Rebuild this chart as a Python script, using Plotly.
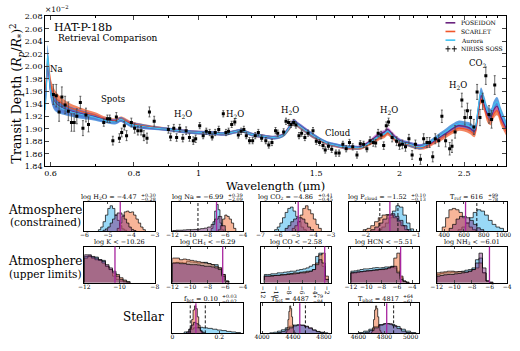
import math
import plotly.graph_objects as go

# ---------------- data: transmission spectrum ----------------
WL = [0.606, 0.612, 0.618, 0.624, 0.631, 0.638, 0.645, 0.651, 0.657, 0.665, 0.671, 0.678, 0.684,
      0.721, 0.730, 0.736, 0.744, 0.753, 0.761, 0.767, 0.774, 0.780, 0.793, 0.802, 0.811, 0.820,
      0.828, 0.837, 0.844, 0.858,
      0.901, 0.908, 0.918, 0.927, 0.937, 0.947, 0.958, 0.969, 0.982, 0.990,
      1.004, 1.016, 1.027, 1.039, 1.048, 1.059, 1.072, 1.089, 1.099, 1.109, 1.121, 1.133, 1.147,
      1.158, 1.169, 1.179, 1.192, 1.205, 1.216, 1.229, 1.243, 1.261, 1.274, 1.288, 1.304, 1.314,
      1.341, 1.352, 1.364, 1.375, 1.388, 1.399, 1.414, 1.427, 1.443, 1.459, 1.484, 1.501, 1.518,
      1.536, 1.548, 1.565, 1.583, 1.606, 1.624, 1.645, 1.664, 1.683, 1.702, 1.727, 1.747, 1.767,
      1.787, 1.807, 1.827, 1.842, 1.858, 1.877, 1.894, 1.911, 1.926, 1.950, 1.980, 2.000, 2.020,
      2.042, 2.066, 2.089, 2.113, 2.150, 2.174, 2.199, 2.219, 2.243, 2.263, 2.290, 2.315, 2.345,
      2.378, 2.397, 2.423, 2.480, 2.506, 2.528, 2.556, 2.585, 2.614, 2.640, 2.664, 2.694, 2.724,
      2.748, 2.778]
DEPTH = [1.955, 1.953, 1.927, 1.951, 1.938, 1.928, 1.910, 1.910, 1.920, 1.942, 1.901, 1.922, 1.907,
         1.910, 1.916, 1.916, 1.881, 1.919, 1.885, 1.894, 1.905, 1.889, 1.910, 1.901, 1.897, 1.897,
         1.889, 1.885, 1.927, 1.912,
         1.899, 1.887, 1.901, 1.886, 1.901, 1.885, 1.897, 1.886, 1.881, 1.884,
         1.905, 1.889, 1.896, 1.894, 1.887, 1.894, 1.899, 1.924, 1.894, 1.896, 1.907, 1.911, 1.890,
         1.896, 1.899, 1.889, 1.881, 1.881, 1.889, 1.894, 1.885, 1.881, 1.874, 1.878, 1.897, 1.893,
         1.895, 1.912, 1.910, 1.907, 1.910, 1.906, 1.889, 1.893, 1.886, 1.893, 1.897, 1.880, 1.878,
         1.873, 1.866, 1.872, 1.867, 1.861, 1.861, 1.875, 1.868, 1.878, 1.871, 1.858, 1.876, 1.875,
         1.868, 1.881, 1.878, 1.877, 1.893, 1.890, 1.873, 1.905, 1.911, 1.886, 1.880, 1.874, 1.875,
         1.871, 1.884, 1.858, 1.875, 1.851, 1.884, 1.878, 1.878, 1.855, 1.884, 1.881, 1.920, 1.881,
         1.868, 1.872, 1.895, 1.946, 1.918, 1.929, 1.918, 1.903, 1.959, 1.918, 1.944, 1.985, 1.923,
         1.915, 1.970]
ERR = [0.016, 0.018, 0.015, 0.016, 0.014, 0.015, 0.014, 0.014, 0.012, 0.010, 0.012, 0.011, 0.012,
       0.006, 0.006, 0.006, 0.007, 0.007, 0.007, 0.007, 0.007, 0.008, 0.007, 0.008, 0.007, 0.007,
       0.008, 0.008, 0.008, 0.008,
       0.006, 0.006, 0.006, 0.006, 0.006, 0.006, 0.006, 0.006, 0.006, 0.006,
       0.005, 0.005, 0.005, 0.005, 0.005, 0.005, 0.005, 0.005, 0.005, 0.005, 0.005, 0.005, 0.005,
       0.005, 0.005, 0.005, 0.005, 0.005, 0.005, 0.005, 0.005, 0.005, 0.005, 0.005, 0.005, 0.005,
       0.005, 0.005, 0.005, 0.005, 0.005, 0.005, 0.005, 0.005, 0.005, 0.005, 0.005, 0.005, 0.005,
       0.005, 0.005, 0.005, 0.005, 0.005, 0.005, 0.005, 0.005, 0.005, 0.005, 0.005, 0.005, 0.005,
       0.005, 0.006, 0.006, 0.006, 0.006, 0.006, 0.006, 0.006, 0.006, 0.007, 0.007, 0.007, 0.007,
       0.007, 0.007, 0.007, 0.007, 0.008, 0.008, 0.008, 0.008, 0.008, 0.008, 0.009, 0.010, 0.010,
       0.010, 0.010, 0.010, 0.011, 0.012, 0.012, 0.012, 0.012, 0.012, 0.013, 0.013, 0.014, 0.014,
       0.014, 0.015]

MODEL_WL = [0.589, 0.592, 0.594, 0.597, 0.600, 0.605, 0.610, 0.620, 0.640, 0.660, 0.680, 0.700,
            0.720, 0.750, 0.765, 0.775, 0.790, 0.820, 0.860, 0.900, 0.950, 1.000, 1.050, 1.100,
            1.130, 1.160, 1.200, 1.250, 1.300, 1.340, 1.370, 1.390, 1.410, 1.440, 1.480, 1.520,
            1.560, 1.600, 1.650, 1.700, 1.750, 1.800, 1.840, 1.870, 1.900, 1.920, 1.950, 1.980,
            2.020, 2.060, 2.100, 2.150, 2.200, 2.250, 2.300, 2.350, 2.400, 2.450, 2.500, 2.550,
            2.590, 2.620, 2.650, 2.680, 2.710, 2.740, 2.770, 2.800, 2.840, 2.890]
AURORA_MODEL = [1.930, 1.975, 2.018, 1.990, 1.962, 1.946, 1.940, 1.934, 1.928, 1.924, 1.921, 1.918,
                1.914, 1.911, 1.915, 1.912, 1.907, 1.904, 1.901, 1.899, 1.896, 1.894, 1.893, 1.892,
                1.895, 1.897, 1.891, 1.888, 1.886, 1.890, 1.903, 1.911, 1.906, 1.899, 1.890, 1.883,
                1.877, 1.874, 1.871, 1.870, 1.870, 1.877, 1.884, 1.889, 1.892, 1.896, 1.889, 1.883,
                1.878, 1.876, 1.873, 1.871, 1.875, 1.882, 1.889, 1.896, 1.903, 1.908, 1.907, 1.904,
                1.899, 1.928, 1.958, 1.944, 1.928, 1.924, 1.937, 1.943, 1.925, 1.905]
SCARLET_MODEL = [1.962, 1.985, 2.005, 1.995, 1.972, 1.958, 1.950, 1.943, 1.934, 1.929, 1.925, 1.922,
                 1.917, 1.913, 1.916, 1.914, 1.909, 1.905, 1.902, 1.899, 1.896, 1.894, 1.893, 1.892,
                 1.895, 1.897, 1.891, 1.888, 1.886, 1.890, 1.902, 1.910, 1.905, 1.898, 1.889, 1.882,
                 1.876, 1.873, 1.870, 1.869, 1.869, 1.875, 1.881, 1.886, 1.889, 1.893, 1.887, 1.881,
                 1.877, 1.875, 1.872, 1.870, 1.872, 1.878, 1.884, 1.890, 1.896, 1.901, 1.900, 1.897,
                 1.892, 1.918, 1.948, 1.934, 1.917, 1.913, 1.924, 1.929, 1.912, 1.896]
POSEIDON_MODEL = [1.940, 1.978, 1.998, 1.985, 1.962, 1.948, 1.941, 1.935, 1.929, 1.925, 1.922, 1.919,
                  1.915, 1.912, 1.915, 1.912, 1.908, 1.904, 1.901, 1.899, 1.896, 1.894, 1.893, 1.892,
                  1.895, 1.897, 1.891, 1.888, 1.886, 1.891, 1.904, 1.912, 1.907, 1.900, 1.890, 1.883,
                  1.877, 1.874, 1.871, 1.870, 1.871, 1.879, 1.887, 1.892, 1.895, 1.899, 1.892, 1.885,
                  1.879, 1.877, 1.874, 1.872, 1.874, 1.880, 1.887, 1.893, 1.900, 1.905, 1.904, 1.901,
                  1.896, 1.924, 1.953, 1.939, 1.923, 1.919, 1.931, 1.936, 1.918, 1.901]
BAND_HALF = [0.010, 0.014, 0.016, 0.014, 0.012, 0.012, 0.012, 0.010, 0.008, 0.007, 0.006, 0.005,
             0.004, 0.004, 0.004, 0.004, 0.004, 0.004, 0.003, 0.003, 0.003, 0.003, 0.003, 0.003,
             0.003, 0.003, 0.003, 0.003, 0.003, 0.003, 0.004, 0.004, 0.004, 0.004, 0.004, 0.003,
             0.003, 0.003, 0.003, 0.003, 0.003, 0.003, 0.004, 0.004, 0.004, 0.004, 0.004, 0.004,
             0.004, 0.004, 0.004, 0.004, 0.004, 0.004, 0.005, 0.005, 0.005, 0.005, 0.005, 0.006,
             0.006, 0.007, 0.008, 0.008, 0.008, 0.008, 0.008, 0.008, 0.008, 0.008]

FEATURES = ["Na", "Spots", "H<sub>2</sub>O", "H<sub>2</sub>O", "H<sub>2</sub>O", "Cloud",
            "H<sub>2</sub>O", "H<sub>2</sub>O", "CO<sub>2</sub>"]
FEATURE_WL = [0.612, 0.745, 0.947, 1.135, 1.37, 1.62, 1.93, 2.45, 2.62]
FEATURE_Y = [1.995, 1.948, 1.923, 1.923, 1.930, 1.893, 1.930, 1.970, 2.005]

X_TICKS = [0.6, 0.8, 1, 1.5, 2, 2.5]
X_MINOR = [0.7, 0.9, 1.1, 1.2, 1.3, 1.4, 1.6, 1.7, 1.8, 1.9, 2.1, 2.2, 2.3, 2.4, 2.6, 2.7, 2.8]
Y_TICKS = [1.84, 1.86, 1.88, 1.90, 1.92, 1.94, 1.96, 1.98, 2.00, 2.02, 2.04, 2.06, 2.08]

# ---------------- data: posterior histograms (lo, hi, normalised counts) ----------------
h2o = dict(title="log H<sub>2</sub>O = −4.47", up="+0.30", dn="−0.28", rng=[-6, -3], ticks=[-6, -5, -4, -3],
           median=-4.47, dashed=[],
           aurora=(-5.4, -4.2, [0.05, 0.15, 0.35, 0.6, 0.85, 0.95, 0.85, 0.6, 0.4, 0.2, 0.08, 0.03]),
           scarlet=(-4.6, -3.4, [0.1, 0.3, 0.55, 0.72, 0.75, 0.7, 0.72, 0.6, 0.45, 0.3, 0.15, 0.05]),
           poseidon=(-5.2, -3.8, [0.03, 0.08, 0.15, 0.3, 0.45, 0.6, 0.68, 0.68, 0.6, 0.45, 0.3, 0.15, 0.06, 0.02]))
na = dict(title="log Na = −6.99", up="+0.39", dn="−2.09", rng=[-12, -4], ticks=[-12, -10, -8, -6, -4],
          median=-6.99, dashed=[-9.1],
          aurora=(-7.6, -6.2, [0.1, 0.35, 0.75, 1.0, 0.8, 0.3, 0.05]),
          scarlet=(-6.8, -4.8, [0.05, 0.2, 0.45, 0.6, 0.55, 0.45, 0.3, 0.1]),
          poseidon=(-12, -6.0, [0.02, 0.03, 0.03, 0.04, 0.05, 0.05, 0.06, 0.07, 0.09, 0.11, 0.15, 0.25, 0.45, 0.55, 0.2]))
co2 = dict(title="log CO<sub>2</sub> = −4.86", up="+0.41", dn="−0.45", rng=[-7, -3], ticks=[-7, -6, -5, -4, -3],
           median=-4.86, dashed=[],
           aurora=(-6.2, -4.4, [0.05, 0.15, 0.3, 0.5, 0.7, 0.85, 0.9, 0.75, 0.55, 0.35, 0.15, 0.05]),
           scarlet=(-5.2, -3.55, [0.1, 0.2, 0.35, 0.6, 0.85, 0.95, 0.8, 0.65, 0.45, 0.25, 0.1]),
           poseidon=(-5.6, -4.0, [0.1, 0.2, 0.35, 0.45, 0.5, 0.5, 0.45, 0.3, 0.15, 0.05]))
pcloud = dict(title="log P<sub>cloud</sub> = −1.52", up="+0.10", dn="−0.13", rng=[-2.34, -0.94], ticks=[-2, -1],
              median=-1.52, dashed=[-1.72, -1.36],
              aurora=(-1.75, -1.05, [0.05, 0.15, 0.3, 0.5, 0.75, 0.95, 0.9, 0.6, 0.3, 0.08]),
              scarlet=(-2.05, -1.15, [0.05, 0.1, 0.2, 0.35, 0.5, 0.6, 0.62, 0.6, 0.5, 0.35, 0.2, 0.05]),
              poseidon=(-1.9, -1.1, [0.05, 0.15, 0.3, 0.45, 0.6, 0.65, 0.55, 0.4, 0.2, 0.05]))
tref = dict(title="T<sub>ref</sub> = 616", up="+99", dn="−78", rng=[324, 1037], ticks=[400, 600, 800, 1000],
            median=616, dashed=[730],
            aurora=(540, 1000, [0.05, 0.15, 0.3, 0.5, 0.7, 0.8, 0.75, 0.6, 0.4, 0.25, 0.15, 0.1]),
            scarlet=(380, 720, [0.15, 0.5, 0.8, 0.85, 0.8, 0.7, 0.5, 0.3, 0.15, 0.05]),
            poseidon=(450, 800, [0.1, 0.25, 0.45, 0.55, 0.55, 0.5, 0.4, 0.25, 0.12, 0.05]))
k_ = dict(title="log K &lt; −10.26", up="", dn="", rng=[-12, -8], ticks=[-12, -10, -8],
          median=-10.26, dashed=[],
          aurora=(-12, -9.4, [0.8, 0.82, 0.78, 0.78, 0.7, 0.68, 0.5, 0.4, 0.2, 0.1, 0.05, 0.02, 0.01]),
          scarlet=(-12, -9.4, [0.75, 0.8, 0.75, 0.7, 0.68, 0.6, 0.5, 0.4, 0.3, 0.25, 0.15, 0.08, 0.03]),
          poseidon=(-12, -9.4, [0.85, 0.85, 0.8, 0.75, 0.7, 0.65, 0.55, 0.45, 0.35, 0.2, 0.1, 0.05, 0.02]))
ch4 = dict(title="log CH<sub>4</sub> &lt; −6.29", up="", dn="", rng=[-12, -4], ticks=[-12, -10, -8, -6, -4],
           median=-6.29, dashed=[],
           aurora=(-12, -5.6, [0.6, 0.62, 0.62, 0.6, 0.65, 0.63, 0.62, 0.6, 0.6, 0.62, 0.58, 0.55, 0.55, 0.45, 0.25, 0.05]),
           scarlet=(-12, -5.6, [0.75, 0.75, 0.7, 0.72, 0.7, 0.68, 0.66, 0.64, 0.62, 0.6, 0.58, 0.55, 0.5, 0.45, 0.25, 0.05]),
           poseidon=(-12, -5.6, [0.6, 0.6, 0.58, 0.58, 0.56, 0.55, 0.55, 0.54, 0.52, 0.5, 0.5, 0.48, 0.45, 0.4, 0.2, 0.03]))
co = dict(title="log CO &lt; −2.58", up="", dn="", rng=[-12.6, -1.6], ticks=[-12, -10, -8, -6, -4, -2],
          median=-2.58, dashed=[],
          aurora=(-12, -2, [0.25, 0.25, 0.27, 0.27, 0.3, 0.3, 0.32, 0.33, 0.35, 0.35, 0.38, 0.4, 0.42, 0.45, 0.5, 0.55, 0.8, 0.9, 0.5, 0.1]),
          scarlet=(-12, -2, [0.2, 0.2, 0.22, 0.22, 0.23, 0.25, 0.25, 0.27, 0.28, 0.3, 0.3, 0.32, 0.33, 0.35, 0.35, 0.4, 0.6, 0.85, 0.9, 0.2]),
          poseidon=(-12, -2, [0.2, 0.2, 0.2, 0.22, 0.22, 0.23, 0.24, 0.25, 0.26, 0.27, 0.28, 0.3, 0.3, 0.32, 0.35, 0.4, 0.55, 0.7, 0.6, 0.1]))
hcn = dict(title="log HCN &lt; −5.51", up="", dn="", rng=[-12.3, -3.1], ticks=[-12, -10, -8, -6, -4],
           median=-5.51, dashed=[],
           aurora=(-12, -4.4, [0.35, 0.36, 0.38, 0.4, 0.42, 0.42, 0.43, 0.45, 0.46, 0.45, 0.46, 0.48, 0.48, 0.5, 0.45, 0.35, 0.15, 0.05, 0.01]),
           scarlet=(-12, -4.4, [0.3, 0.3, 0.32, 0.33, 0.35, 0.36, 0.36, 0.38, 0.4, 0.4, 0.42, 0.42, 0.45, 0.48, 0.75, 0.9, 0.2, 0.05, 0.01]),
           poseidon=(-12, -4.4, [0.3, 0.32, 0.33, 0.34, 0.35, 0.36, 0.37, 0.38, 0.38, 0.4, 0.4, 0.42, 0.45, 0.48, 0.5, 0.3, 0.1, 0.03, 0.01]))
nh3 = dict(title="log NH<sub>3</sub> &lt; −6.01", up="", dn="", rng=[-12, -4], ticks=[-12, -10, -8, -6, -4],
           median=-6.01, dashed=[],
           aurora=(-12, -5.6, [0.25, 0.28, 0.3, 0.3, 0.32, 0.32, 0.33, 0.35, 0.38, 0.4, 0.45, 0.7, 0.75, 0.3, 0.05, 0.01]),
           scarlet=(-12, -5.6, [0.3, 0.32, 0.33, 0.35, 0.35, 0.33, 0.34, 0.33, 0.32, 0.35, 0.4, 0.45, 0.6, 0.3, 0.05, 0.01]),
           poseidon=(-12, -5.6, [0.2, 0.22, 0.24, 0.25, 0.25, 0.27, 0.28, 0.3, 0.32, 0.35, 0.4, 0.6, 0.9, 0.45, 0.05, 0.01]))
fhet = dict(title="f<sub>het</sub> = 0.10", up="+0.03", dn="−0.02", rng=[0, 0.3], ticks=[0.0, 0.2],
            median=0.10, dashed=[0.076, 0.14],
            aurora=(0.05, 0.29, [0.05, 0.15, 0.2, 0.22, 0.2, 0.18, 0.15, 0.12, 0.1, 0.07, 0.05, 0.03]),
            scarlet=(0.07, 0.13, [0.05, 0.2, 0.5, 0.85, 1.0, 0.9, 0.6, 0.3, 0.1, 0.03]),
            poseidon=(0.06, 0.14, [0.05, 0.15, 0.3, 0.4, 0.35, 0.2, 0.08, 0.02]))
thet = dict(title="T<sub>het</sub> = 4487", up="+79", dn="−84", rng=[3980, 4890], ticks=[4000, 4400, 4800],
            median=4487, dashed=[4560],
            aurora=(4100, 4850, [0.02, 0.04, 0.08, 0.13, 0.2, 0.26, 0.3, 0.31, 0.29, 0.24, 0.18, 0.12, 0.07, 0.04, 0.02]),
            scarlet=(4310, 4430, [0.05, 0.2, 0.5, 0.8, 1.0, 0.9, 0.6, 0.3, 0.1, 0.03]),
            poseidon=(4200, 4800, [0.03, 0.07, 0.13, 0.2, 0.27, 0.3, 0.3, 0.26, 0.2, 0.12, 0.06, 0.02]))
tphot = dict(title="T<sub>phot</sub> = 4817", up="+64", dn="−61", rng=[4525, 5065], ticks=[4600, 4800, 5000],
             median=4817, dashed=[4870],
             aurora=(4600, 5040, [0.03, 0.08, 0.15, 0.25, 0.32, 0.35, 0.32, 0.25, 0.15, 0.08, 0.03]),
             scarlet=(4700, 4780, [0.05, 0.2, 0.5, 0.85, 1.0, 0.9, 0.6, 0.3, 0.1, 0.03]),
             poseidon=(4650, 5000, [0.04, 0.1, 0.2, 0.3, 0.35, 0.35, 0.28, 0.18, 0.08, 0.03]))

PANELS = [h2o, na, co2, pcloud, tref, k_, ch4, co, hcn, nh3, fhet, thet, tphot]

# ---------------- layout geometry (pixels) ----------------
W, H = 520, 351
FONT = "DejaVu Serif"
SLOTS = [(0, 0), (0, 1), (0, 2), (0, 3), (0, 4),
         (1, 0), (1, 1), (1, 2), (1, 3), (1, 4),
         (2, 1), (2, 2), (2, 3)]
COL_LEFT = [80, 170, 260, 350, 440]
COL_W = 72
ROW_TB = [(203, 233), (249, 286), (307, 338)]

def fx(p):
    return p / W

def fy(p):
    return 1 - p / H

COL_AUR_FILL = "rgba(70,185,240,0.55)"
COL_SCA_FILL = "rgba(242,120,70,0.55)"
COL_POS_FILL = "rgba(120,35,120,0.45)"
MAGENTA = "#a8259f"

fig = go.Figure()

# ---- main panel bands and lines ----
def band(model, scale, fillcol):
    up = [m + scale * b for m, b in zip(model, BAND_HALF)]
    lo = [m - scale * b for m, b in zip(model, BAND_HALF)]
    fig.add_trace(go.Scatter(x=MODEL_WL, y=up, mode="lines", line=dict(width=0, shape="spline"),
                             showlegend=False, hoverinfo="skip"))
    fig.add_trace(go.Scatter(x=MODEL_WL, y=lo, mode="lines", line=dict(width=0, shape="spline"),
                             fill="tonexty", fillcolor=fillcol, showlegend=False, hoverinfo="skip"))

band(SCARLET_MODEL, 0.9, "rgba(238,95,45,0.75)")
band(POSEIDON_MODEL, 0.9, "rgba(190,70,190,0.6)")
band(AURORA_MODEL, 1.0, "rgba(40,125,215,0.75)")

fig.add_trace(go.Scatter(x=MODEL_WL, y=SCARLET_MODEL, mode="lines",
                         line=dict(color="#f0562a", width=1.2, shape="spline"), showlegend=False))
fig.add_trace(go.Scatter(x=MODEL_WL, y=POSEIDON_MODEL, mode="lines",
                         line=dict(color="#6a237f", width=1.2, shape="spline"), showlegend=False))
fig.add_trace(go.Scatter(x=MODEL_WL, y=AURORA_MODEL, mode="lines",
                         line=dict(color="#3fc3f2", width=1.2, shape="spline"), showlegend=False))

fig.add_trace(go.Scatter(x=WL, y=DEPTH, mode="markers",
                         marker=dict(symbol="square", size=3, color="black"),
                         error_y=dict(type="data", array=ERR, color="#444", thickness=0.8, width=1),
                         error_x=dict(type="percent", value=0.3, color="black", thickness=1, width=0),
                         showlegend=False))

# ---- histograms ----
def step_xy(lo, hi, counts):
    n = len(counts)
    w = (hi - lo) / n
    edges = [lo + i * w for i in range(n + 1)]
    xs = [edges[0]] + edges[:-1] + [edges[-1]]
    ys = [0] + list(counts) + [0]
    return xs, ys

layout_axes = {}
shapes = []
annotations = []

for i, (p, (r, c)) in enumerate(zip(PANELS, SLOTS)):
    n = i + 2
    xa, ya = f"x{n}", f"y{n}"
    for key, fill in (("aurora", COL_AUR_FILL), ("scarlet", COL_SCA_FILL), ("poseidon", COL_POS_FILL)):
        lo, hi, cnt = p[key]
        xs, ys = step_xy(lo, hi, cnt)
        fig.add_trace(go.Scatter(x=xs, y=ys, mode="lines", line=dict(shape="hv", color="black", width=0.7),
                                 fill="tozeroy", fillcolor=fill, xaxis=xa, yaxis=ya,
                                 showlegend=False, hoverinfo="skip"))
    left = COL_LEFT[c]
    top, bot = ROW_TB[r]
    layout_axes[f"xaxis{n}"] = dict(domain=[fx(left), fx(left + COL_W)], anchor=ya, range=p["rng"],
                                    tickvals=p["ticks"], ticktext=[("%g" % t).replace("-", "−") for t in p["ticks"]],
                                    ticks="inside", ticklen=2.5, tickwidth=0.7, showline=True, mirror="ticks",
                                    linecolor="black", linewidth=0.8, showgrid=False, zeroline=False,
                                    ticklabelstandoff=-2,
                                    tickfont=dict(size=6, family=FONT, color="black"))
    layout_axes[f"yaxis{n}"] = dict(domain=[fy(bot), fy(top)], anchor=xa, range=[0, 1.1],
                                    showticklabels=False, ticks="", showline=True, mirror=True,
                                    linecolor="black", linewidth=0.8, showgrid=False, zeroline=False)
    shapes.append(dict(type="line", xref=xa, yref=f"{ya} domain", x0=p["median"], x1=p["median"],
                       y0=0, y1=1, line=dict(color=MAGENTA, width=1.3)))
    for d in p["dashed"]:
        shapes.append(dict(type="line", xref=xa, yref=f"{ya} domain", x0=d, x1=d, y0=0, y1=1,
                           line=dict(color="black", width=0.9, dash="3px,2px")))
    # title (with stacked super/subscripts)
    cx = left + COL_W / 2
    ty = top - 4.5
    fs = 6.5
    plain = p["title"].replace("<sub>", "").replace("</sub>", "").replace("&lt;", "<")
    wmain = len(plain) * 0.56 * fs
    if p["up"]:
        wscr = len(p["up"]) * 0.6 * 5
        xa_ = cx - (wmain + wscr) / 2 + wmain
        annotations.append(dict(x=fx(xa_), y=fy(ty), xref="paper", yref="paper", text=p["title"],
                                showarrow=False, xanchor="right", yanchor="middle",
                                font=dict(size=fs, family=FONT, color="black")))
        annotations.append(dict(x=fx(xa_ + 0.5), y=fy(ty - 2.3), xref="paper", yref="paper", text=p["up"],
                                showarrow=False, xanchor="left", yanchor="middle",
                                font=dict(size=4.8, family=FONT, color="black")))
        annotations.append(dict(x=fx(xa_ + 0.5), y=fy(ty + 2.4), xref="paper", yref="paper", text=p["dn"],
                                showarrow=False, xanchor="left", yanchor="middle",
                                font=dict(size=4.8, family=FONT, color="black")))
    else:
        annotations.append(dict(x=fx(cx), y=fy(ty), xref="paper", yref="paper", text=p["title"],
                                showarrow=False, xanchor="center", yanchor="middle",
                                font=dict(size=fs, family=FONT, color="black")))

# ---- row labels ----
for txt, x, y, s, anc in [("Atmosphere", 40, 211, 12, "center"), ("(constrained)", 40, 224, 10.5, "center"),
                          ("Atmosphere", 40, 264, 12, "center"), ("(upper limits)", 40, 277, 10.5, "center"),
                          ("Stellar", 163, 321, 12, "right")]:
    annotations.append(dict(x=fx(x), y=fy(y), xref="paper", yref="paper", text=txt, showarrow=False,
                            xanchor=anc, yanchor="middle", font=dict(size=s, family=FONT, color="black")))

# ---- main panel text ----
annotations.append(dict(x=fx(47), y=fy(24), xref="paper", yref="paper", text="HAT-P-18b", showarrow=False,
                        xanchor="left", yanchor="middle", font=dict(size=11, family=FONT, color="black")))
annotations.append(dict(x=fx(51), y=fy(34.5), xref="paper", yref="paper", text="Retrieval Comparison",
                        showarrow=False, xanchor="left", yanchor="middle",
                        font=dict(size=9, family=FONT, color="black")))
annotations.append(dict(x=fx(38), y=fy(5), xref="paper", yref="paper", text="×10<sup>−2</sup>",
                        showarrow=False, xanchor="left", yanchor="middle",
                        font=dict(size=7.5, family=FONT, color="black")))
annotations.append(dict(x=fx(11), y=fy(92), xref="paper", yref="paper",
                        text="Transit Depth (<i>R</i><sub><i>p</i></sub>/<i>R</i><sub>*</sub>)<sup>2</sup>",
                        showarrow=False, textangle=-90, xanchor="center", yanchor="middle",
                        font=dict(size=12.5, family=FONT, color="black")))
annotations.append(dict(x=fx(275), y=fy(186.5), xref="paper", yref="paper", text="Wavelength (μm)",
                        showarrow=False, xanchor="center", yanchor="middle",
                        font=dict(size=11.5, family=FONT, color="black")))
for t, wl, yv in zip(FEATURES, FEATURE_WL, FEATURE_Y):
    annotations.append(dict(x=math.log10(wl), y=yv, xref="x", yref="y", text=t, showarrow=False,
                            xanchor="center", yanchor="middle", font=dict(size=8.5, family=FONT, color="black")))

# ---- legend (manual) ----
LEG = [("POSEIDON", "#6a237f"), ("SCARLET", "#f0562a"), ("Aurora", "#3fc3f2"), ("NIRISS SOSS", None)]
for j, (name, col) in enumerate(LEG):
    yy = 19.3 + j * 8.9
    if col:
        shapes.append(dict(type="line", xref="paper", yref="paper", x0=fx(449), x1=fx(459), y0=fy(yy), y1=fy(yy),
                           line=dict(color=col, width=1.6)))
    else:
        for cxp in (451.5, 458):
            shapes.append(dict(type="line", xref="paper", yref="paper", x0=fx(cxp - 2.5), x1=fx(cxp + 2.5),
                               y0=fy(yy), y1=fy(yy), line=dict(color="black", width=1)))
            shapes.append(dict(type="line", xref="paper", yref="paper", x0=fx(cxp), x1=fx(cxp),
                               y0=fy(yy - 3), y1=fy(yy + 3), line=dict(color="black", width=0.8)))
    annotations.append(dict(x=fx(463), y=fy(yy), xref="paper", yref="paper", text=name, showarrow=False,
                            xanchor="left", yanchor="middle", font=dict(size=6, family=FONT, color="black")))

fig.update_layout(
    width=W, height=H, margin=dict(l=0, r=0, t=0, b=0),
    paper_bgcolor="white", plot_bgcolor="white", showlegend=False,
    font=dict(family=FONT, color="black"),
    xaxis=dict(domain=[fx(40), fx(511)], anchor="y", type="log",
               range=[math.log10(0.589), math.log10(2.89)],
               tickvals=X_TICKS, ticktext=[str(t) for t in X_TICKS],
               ticks="inside", ticklen=4, tickwidth=0.8, showline=True, mirror="ticks",
               linecolor="black", linewidth=1, showgrid=False, zeroline=False,
               ticklabelstandoff=-1,
               minor=dict(tickvals=X_MINOR, ticks="inside", ticklen=2, tickwidth=0.6, tickcolor="black"),
               tickfont=dict(size=8, family=FONT, color="black")),
    yaxis=dict(domain=[fy(166.5), fy(12.7)], anchor="x", range=[1.84, 2.08],
               tickvals=Y_TICKS, ticktext=["%.2f" % v for v in Y_TICKS],
               ticks="inside", ticklen=4, tickwidth=0.8, showline=True, mirror="ticks",
               linecolor="black", linewidth=1, showgrid=False, zeroline=False,
               tickfont=dict(size=8, family=FONT, color="black")),
    shapes=shapes, annotations=annotations,
    **layout_axes,
)

fig.write_html("out.html", config={"displayModeBar": False},
               post_script="document.body.style.margin='0px';document.body.style.padding='0px';")
